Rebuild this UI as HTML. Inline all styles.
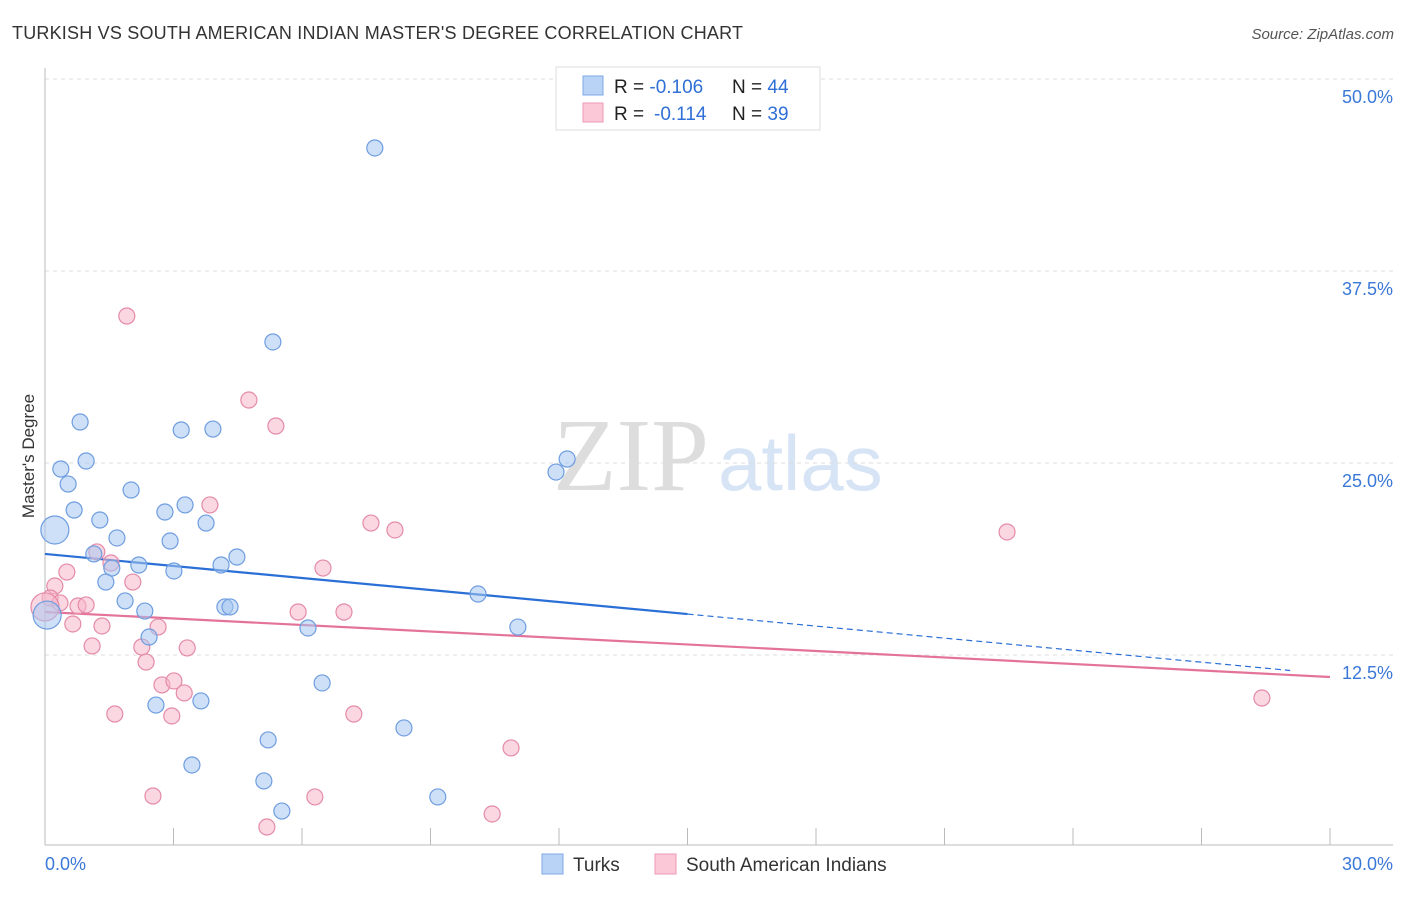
<!DOCTYPE html>
<html><head><meta charset="utf-8"><style>
body{margin:0;background:#fff;font-family:"Liberation Sans",sans-serif}
svg text{font-family:"Liberation Sans",sans-serif}
</style></head><body>
<svg id="c" width="1406" height="892" xmlns="http://www.w3.org/2000/svg">
<text x="12" y="39" font-size="18" fill="#333" textLength="731">TURKISH VS SOUTH AMERICAN INDIAN MASTER'S DEGREE CORRELATION CHART</text>
<text x="1394" y="39" font-size="15" fill="#555" font-style="italic" text-anchor="end">Source: ZipAtlas.com</text>
<g><text x="553" y="490" font-size="104" fill="#ddd" style="font-family:'Liberation Serif',serif">ZIP</text><text x="718" y="490" font-size="78" fill="#d6e4f5">atlas</text></g>
<g id="grid"></g><g id="axes"></g><g id="trend"></g><g id="pts"></g>
<text transform="translate(34,456) rotate(-90)" font-size="17" fill="#333" text-anchor="middle">Master's Degree</text>
<g>
<rect x="556" y="67" width="264" height="63" fill="#fff" stroke="#ddd"/>
<rect x="583" y="76" width="20" height="19" fill="#b8d3f5" stroke="#7fa9e4"/>
<rect x="583" y="103" width="20" height="19" fill="#fbc8d7" stroke="#ec9ab4"/>
<text x="614" y="93" font-size="19" fill="#222">R = <tspan fill="#2f6fd6">-0.106</tspan><tspan x="732">N = </tspan><tspan fill="#2f6fd6">44</tspan></text>
<text x="614" y="120" font-size="19" fill="#222">R = <tspan x="654" fill="#2f6fd6">-0.114</tspan><tspan x="732">N = </tspan><tspan fill="#2f6fd6">39</tspan></text>
</g>
<g>
<rect x="542" y="854" width="21" height="20" fill="#b8d3f5" stroke="#7fa9e4"/>
<text x="573" y="871" font-size="19" fill="#333">Turks</text>
<rect x="655" y="854" width="21" height="20" fill="#fbc8d7" stroke="#ec9ab4"/>
<text x="686" y="871" font-size="19" fill="#333">South American Indians</text>
</g>
</svg>
<script>
const yTicks=[12.5,25,37.5,50];
const yTickLabels=["12.5%","25.0%","37.5%","50.0%"];
const xTicks=[3,6,9,12,15,18,21,24,27,30];
const turksX=[7.70,5.32,0.82,3.18,3.92,0.96,0.37,0.54,2.01,12.19,11.93,3.27,0.68,2.80,1.28,3.76,0.23,1.68,2.92,4.48,1.14,2.19,4.11,1.56,3.01,1.42,10.11,1.87,2.33,4.20,4.32,0.05,6.14,11.04,2.43,6.47,2.59,3.64,8.38,5.21,3.43,5.11,9.17,5.53];
const turksY=[45.51,32.88,27.67,27.15,27.21,25.13,24.61,23.63,23.24,25.26,24.41,22.27,21.94,21.81,21.29,21.09,20.64,20.12,19.92,18.88,19.08,18.36,18.36,18.16,17.97,17.25,16.47,16.02,15.36,15.63,15.63,15.10,14.26,14.32,13.67,10.68,9.24,9.51,7.75,6.97,5.34,4.30,3.26,2.34];
const turksBig=[16,31];
const saiX=[1.91,4.76,5.39,3.85,7.61,8.17,22.46,1.21,0.51,1.54,6.49,2.05,0.23,0.12,0.35,0.77,0.96,5.91,6.98,0.65,1.33,2.64,1.10,2.26,3.32,2.36,2.73,3.01,3.25,1.63,2.96,7.21,10.88,2.52,6.30,5.18,10.44,28.41,0.0];
const saiY=[34.57,29.10,27.41,22.27,21.09,20.64,20.51,19.21,17.90,18.49,18.16,17.25,16.99,16.21,15.89,15.69,15.76,15.30,15.30,14.52,14.39,14.32,13.09,13.02,12.96,12.04,10.55,10.81,10.03,8.66,8.53,8.66,6.45,3.32,3.26,1.30,2.15,9.70,15.63];
const saiBig=[38];
const turksTrend=[19.08,-0.261,15,29.07];
const saiTrend=[15.30,-0.141,30,30];
const X=v=>45+v/30*1285, Y=v=>847-v/12.5*192;
const NS="http://www.w3.org/2000/svg";
function mk(p,t,a){const e=document.createElementNS(NS,t);for(const k in a)e.setAttribute(k,a[k]);document.getElementById(p).appendChild(e);return e;}
yTicks.forEach((t,i)=>{
 const l=mk('grid','line',{x1:45,x2:1393,y1:Y(t),y2:Y(t),stroke:'#ddd','stroke-dasharray':'4,4'});
 
 
 const tx=mk('grid','text',{x:1393,y:Y(t)+24,'font-size':18,fill:'#3a78d8','text-anchor':'end'});
 tx.textContent=yTickLabels[i];
 
 
});
const ax=mk('axes','line',{x1:45,x2:45,y1:68,y2:845,stroke:'#bbb'});


const bx=mk('axes','line',{x1:45,x2:1393,y1:845,y2:845,stroke:'#bbb'});


xTicks.forEach(t=>{const l=mk('axes','line',{x1:X(t),x2:X(t),y1:828,y2:845,stroke:'#bbb'});
 
 });
[[45,'0.0%','start'],[1393,'30.0%','end']].forEach(d=>{const t=mk('axes','text',{x:d[0],y:870,'font-size':18,fill:'#3a78d8','text-anchor':d[2]});t.textContent=d[1];
 
 });
function trend(tr,col,name){
 const [a,b,s,e]=tr;
 const l1=mk('trend','line',{x1:X(0),y1:Y(a),x2:X(s),y2:Y(a+b*s),stroke:col,'stroke-width':2.2});
 
 
 if(e>s){const l2=mk('trend','line',{x1:X(s),y1:Y(a+b*s),x2:X(e),y2:Y(a+b*e),stroke:col,'stroke-width':1.2,'stroke-dasharray':'6,4'});
 
 }
}
function pts(xs,ys,big,fill,st,name){xs.forEach((x,i)=>{const c=mk('pts','circle',{cx:X(x),cy:Y(ys[i]),r:big.includes(i)?14:8,fill:fill,'fill-opacity':0.55,stroke:st,'stroke-width':1.2});
 
 });}
pts(saiX,saiY,saiBig,'#f7b6ca','#e48aa8','sai-point');
pts(turksX,turksY,turksBig,'#a6c6f0','#6e9de0','turks-point');
trend(turksTrend,'#2a6fd6','turks-trendline');
trend(saiTrend,'#e4739a','sai-trendline');
</script>
</body></html>
